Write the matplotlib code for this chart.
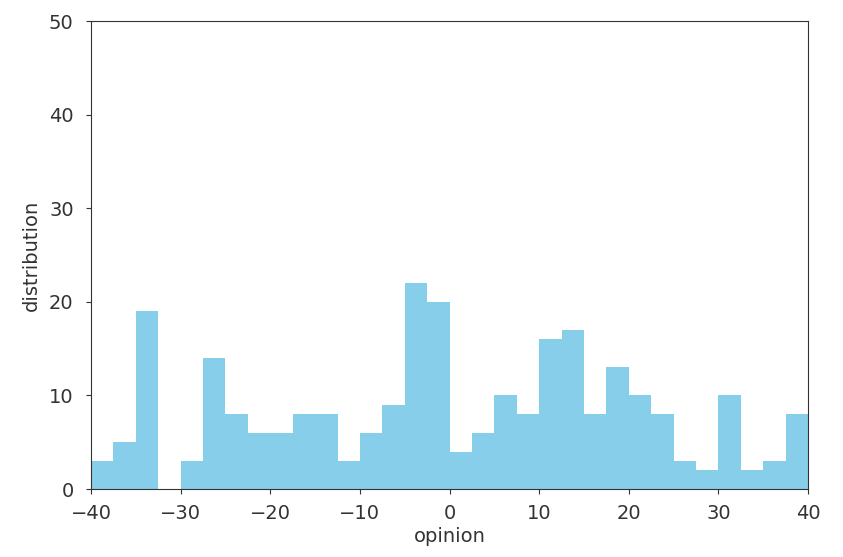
import matplotlib
matplotlib.use('Agg')
import matplotlib.pyplot as plt
import numpy as np

# histogram bins of width 2.5 from -40 to 40
bin_edges = np.arange(-40, 40.01, 2.5)
counts = [3, 5, 19, 0, 3, 14, 8, 6, 6, 8, 8, 3, 6, 9, 22, 20,
          4, 6, 10, 8, 16, 17, 8, 13, 10, 8, 3, 2, 10, 2, 3, 8]

plt.rcParams['font.size'] = 14
plt.rcParams['text.color'] = '#333333'
plt.rcParams['axes.labelcolor'] = '#333333'
plt.rcParams['xtick.color'] = '#333333'
plt.rcParams['ytick.color'] = '#333333'
plt.rcParams['axes.edgecolor'] = '#333333'
plt.rcParams['xtick.major.pad'] = 7
plt.rcParams['ytick.major.pad'] = 9

fig = plt.figure(figsize=(8.43, 5.57), dpi=100)
ax = fig.add_axes([0.108, 0.122, 0.8505, 0.84])

ax.stairs(counts, bin_edges, fill=True, color='skyblue')

ax.set_xlim(-40, 40)
ax.set_ylim(0, 50)
ax.set_xlabel('opinion', labelpad=3)
ax.set_ylabel('distribution', labelpad=6)

fig.savefig('out.png', dpi=100)
